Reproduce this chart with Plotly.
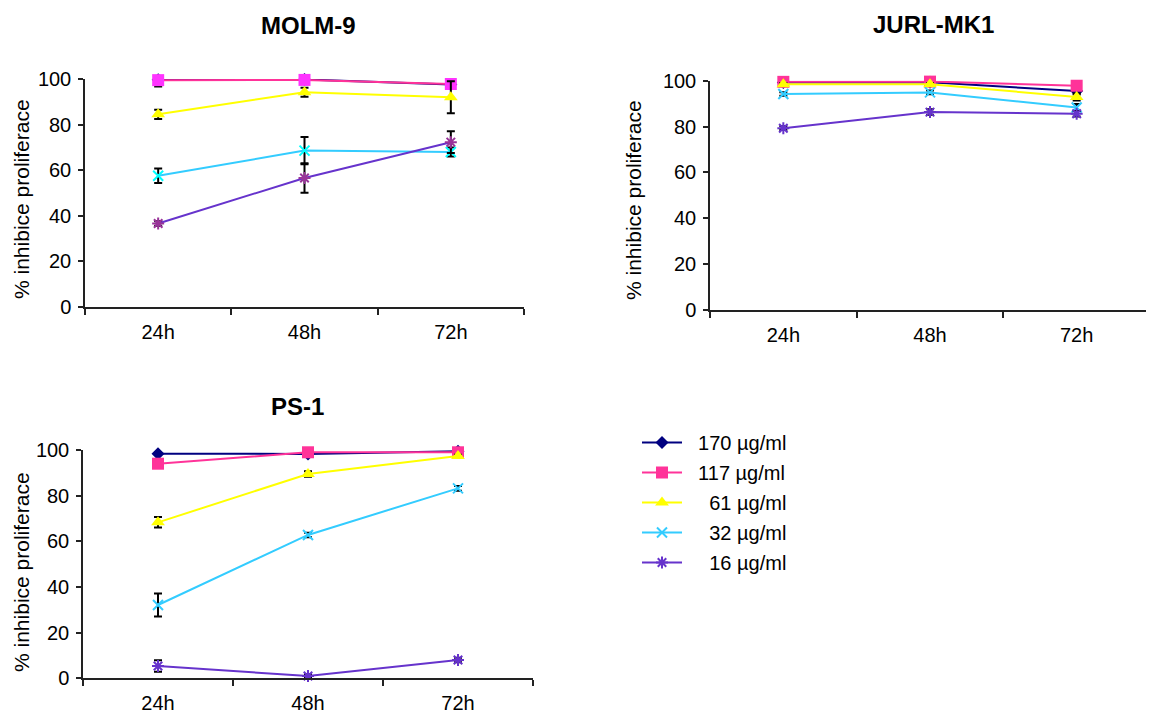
import plotly.graph_objects as go

times = ["24h", "48h", "72h"]
series_names = ["\u00a0\u00a0170 µg/ml", "\u00a0\u00a0117 µg/ml", "\u00a0\u00a0\u00a0\u00a061 µg/ml",
                "\u00a0\u00a0\u00a0\u00a032 µg/ml", "\u00a0\u00a0\u00a0\u00a016 µg/ml"]
panel_titles = ["MOLM-9", "JURL-MK1", "PS-1"]
y_title = "% inhibice proliferace"

# MOLM-9 values and error bars
molm_170 = [99.7, 99.8, 97.6]
molm_117 = [99.5, 99.6, 97.8]
molm_61 = [84.5, 94.2, 92.0]
molm_32 = [57.6, 68.6, 68.0]
molm_16 = [36.6, 56.6, 72.3]
molm_170_err = [3.0, 0.5, 0.5]
molm_117_err = [0.5, 0.5, 0.5]
molm_61_err = [2.0, 2.0, 7.0]
molm_32_err = [3.2, 6.0, 2.0]
molm_16_err = [1.0, 6.5, 4.8]

# JURL-MK1 values and error bars
jurl_170 = [99.2, 99.3, 95.5]
jurl_117 = [99.5, 99.6, 97.8]
jurl_61 = [98.5, 98.5, 92.9]
jurl_32 = [94.2, 94.9, 88.3]
jurl_16 = [79.3, 86.3, 85.6]
jurl_170_err = [0.5, 0.5, 1.5]
jurl_117_err = [0.5, 0.5, 0.5]
jurl_61_err = [0.5, 0.5, 1.5]
jurl_32_err = [0.8, 0.8, 1.5]
jurl_16_err = [0.8, 1.2, 1.2]

# PS-1 values and error bars
ps1_170 = [98.4, 98.3, 99.4]
ps1_117 = [94.0, 99.0, 99.0]
ps1_61 = [68.3, 89.5, 97.4]
ps1_32 = [32.1, 62.8, 83.2]
ps1_16 = [5.4, 1.0, 8.0]
ps1_170_err = [0.5, 0.8, 0.5]
ps1_117_err = [0.5, 0.5, 0.5]
ps1_61_err = [2.3, 1.2, 0.5]
ps1_32_err = [5.0, 1.0, 1.0]
ps1_16_err = [2.5, 0.8, 1.0]

panels = [
    ([molm_170, molm_117, molm_61, molm_32, molm_16],
     [molm_170_err, molm_117_err, molm_61_err, molm_32_err, molm_16_err]),
    ([jurl_170, jurl_117, jurl_61, jurl_32, jurl_16],
     [jurl_170_err, jurl_117_err, jurl_61_err, jurl_32_err, jurl_16_err]),
    ([ps1_170, ps1_117, ps1_61, ps1_32, ps1_16],
     [ps1_170_err, ps1_117_err, ps1_61_err, ps1_32_err, ps1_16_err]),
]

line_colors = ["#000080", "#FF3399", "#FFFF00", "#33CCFF", "#6633CC"]
marker_colors = [
    ["#000080", "#FF33FF", "#FFFF00", "#00FFFF", "#993399"],
    ["#000080", "#FF3399", "#FFFF00", "#33CCFF", "#6633CC"],
    ["#000080", "#FF3399", "#FFFF00", "#33CCFF", "#6633CC"],
]
symbols = ["diamond", "square", "triangle-up", "x-thin-open", "asterisk-open"]
sizes = [10, 12, 12, 10, 10]

# page body has an 8px margin; layout coordinates are screen coordinates minus OFF
OFF = 8
W, H = 1154 - OFF, 713 - OFF
# screen pixel boxes of plot areas: (x0, x1, ytop, ybottom)
boxes = [(85, 524, 79, 307), (710, 1150, 80.7, 310), (83, 533, 450, 678.3)]


def px(x):
    return (x - OFF) / W


def py(y):
    return 1 - (y - OFF) / H


FONT = "Arial, Liberation Sans, sans-serif"

fig = go.Figure()
layout = dict(width=W, height=H, margin=dict(l=0, r=0, t=0, b=0, autoexpand=False),
              paper_bgcolor="white", plot_bgcolor="white",
              font=dict(family=FONT, size=20, color="black"))

for p, (vals, errs) in enumerate(panels):
    ax = "" if p == 0 else str(p + 1)
    for s in range(5):
        sym = symbols[s]
        is_open = sym.endswith("open")
        mc = marker_colors[p][s]
        marker = dict(symbol=sym, size=sizes[s], color=mc,
                      line=dict(color=mc, width=2 if is_open else 0))
        fig.add_trace(go.Scatter(
            x=times, y=vals[s], name=series_names[s],
            mode="lines+markers",
            line=dict(color=line_colors[s], width=2),
            marker=marker,
            error_y=dict(type="data", array=errs[s], color="black", thickness=2, width=4),
            cliponaxis=False,
            showlegend=(p == 2),
            legendgroup=str(s),
            xaxis="x" + ax, yaxis="y" + ax,
        ))
    x0, x1, yt, yb = boxes[p]
    layout["xaxis" + ax] = dict(
        domain=[px(x0), px(x1)], anchor="y" + ax, type="category",
        range=[-0.5, 2.5], tickson="boundaries", ticks="outside", ticklen=6,
        tickwidth=1.5, tickcolor="#222", showline=True, linecolor="#222",
        linewidth=1.5, showgrid=False, zeroline=False, ticklabelstandoff=6,
        tickfont=dict(size=20), automargin=False,
    )
    layout["yaxis" + ax] = dict(
        domain=[py(yb), py(yt)], anchor="x" + ax, range=[0, 100],
        dtick=20, ticks="outside", ticklen=5, tickwidth=1.5, tickcolor="#222",
        showline=True, linecolor="#222", linewidth=1.5, showgrid=False,
        zeroline=False, tickfont=dict(size=20), automargin=False,
        ticklabelstandoff=3,
    )

annotations = []
title_pos = [(308, 25), (933, 24), (297, 406)]
for t, (tx, ty) in zip(panel_titles, title_pos):
    annotations.append(dict(text="<b>%s</b>" % t, x=px(tx), y=py(ty),
                            xref="paper", yref="paper", showarrow=False,
                            xanchor="center", yanchor="middle",
                            font=dict(size=24, family=FONT)))
ytitle_pos = [(21, 199), (634, 200), (21, 572)]
for tx, ty in ytitle_pos:
    annotations.append(dict(text=y_title, x=px(tx), y=py(ty),
                            xref="paper", yref="paper", showarrow=False,
                            textangle=-90, xanchor="center", yanchor="middle",
                            font=dict(size=21, family=FONT)))
layout["annotations"] = annotations
layout["legend"] = dict(x=px(637), y=py(423), xanchor="left", yanchor="top",
                        font=dict(size=20, family=FONT), tracegroupgap=1,
                        itemwidth=40, bgcolor="rgba(0,0,0,0)")

fig.update_layout(**layout)
fig.write_html("out.html")
